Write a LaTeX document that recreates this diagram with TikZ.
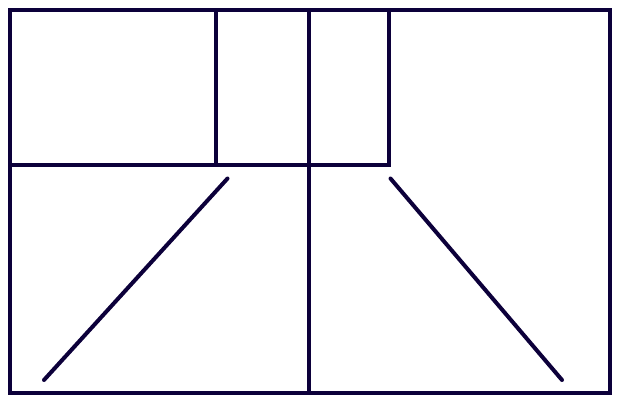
\documentclass[tikz,border=0pt]{standalone}
\definecolor{ink}{RGB}{12,0,58}
\begin{document}
\begin{tikzpicture}[x=1pt,y=-1pt,
  wall/.style={draw=ink,line width=4pt},
  ray/.style={draw=ink,line width=4pt,line cap=round}]
\useasboundingbox (0,0) rectangle (618,402);
% outer frame
\draw[wall] (9.5,9.5) rectangle (609.5,392.5);
% room division
\draw[wall] (9.5,165) -- (389,165) -- (389,9.5);
\draw[wall] (216,9.5) -- (216,165);
\draw[wall] (308.5,9.5) -- (308.5,392.5);
% diagonals
\draw[ray] (227.5,178.5) -- (44,380);
\draw[ray] (390.5,178.5) -- (562,380);
\end{tikzpicture}
\end{document}
